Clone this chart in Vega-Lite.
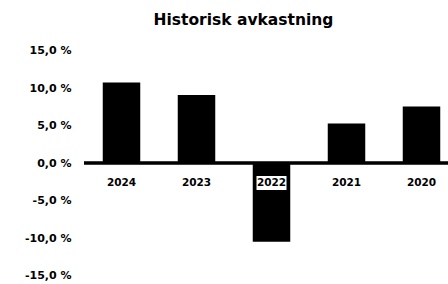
{
  "$schema": "https://vega.github.io/schema/vega-lite/v6.json",
  "width": 375,
  "height": 225,
  "autosize": {"type": "none"},
  "padding": {"left": 84, "top": 50.5, "right": 0, "bottom": 8.5},
  "background": "white",
  "title": {
    "text": "Historisk avkastning",
    "font": "DejaVu Sans",
    "fontWeight": "bold",
    "fontSize": 15.5,
    "color": "black",
    "anchor": "middle",
    "dx": -28,
    "baseline": "alphabetic",
    "offset": 4
  },
  "data": {
    "values": [
      {"year": "2024", "value": 10.73},
      {"year": "2023", "value": 9.08},
      {"year": "2022", "value": -10.5},
      {"year": "2021", "value": 5.27},
      {"year": "2020", "value": 7.55}
    ]
  },
  "encoding": {
    "x": {
      "field": "year",
      "type": "nominal",
      "sort": null,
      "axis": null,
      "scale": {"paddingInner": 0.5, "paddingOuter": 0.25}
    }
  },
  "layer": [
    {
      "mark": {"type": "bar", "color": "black"},
      "encoding": {
        "y": {
          "field": "value",
          "type": "quantitative",
          "scale": {"domain": [-15, 15], "nice": false, "zero": false},
          "axis": {
            "values": [-15, -10, -5, 0, 5, 10, 15],
            "title": null,
            "labelOverlap": false,
            "labelExpr": "replace(replace(format(datum.value, '.1f'), '.', ','), '\u2212', '-') + ' %'"
          }
        }
      }
    },
    {
      "mark": {"type": "rule", "color": "black", "strokeWidth": 2.5},
      "encoding": {
        "y": {
          "datum": 0,
          "axis": {
            "values": [-15, -10, -5, 0, 5, 10, 15],
            "title": null,
            "labelOverlap": false,
            "labelExpr": "replace(replace(format(datum.value, '.1f'), '.', ','), '\u2212', '-') + ' %'"
          }
        },
        "x": null
      }
    },
    {
      "mark": {"type": "bar", "color": "white", "width": 30},
      "encoding": {
        "y": {
          "datum": -1.73,
          "axis": {
            "values": [-15, -10, -5, 0, 5, 10, 15],
            "title": null,
            "labelOverlap": false,
            "labelExpr": "replace(replace(format(datum.value, '.1f'), '.', ','), '\u2212', '-') + ' %'"
          }
        },
        "y2": {"datum": -3.6}
      }
    },
    {
      "mark": {
        "type": "text",
        "font": "DejaVu Sans",
        "fontWeight": "bold",
        "fontSize": 10.5,
        "color": "black",
        "baseline": "middle",
        "dy": 19.5
      },
      "encoding": {
        "y": {
          "datum": 0,
          "axis": {
            "values": [-15, -10, -5, 0, 5, 10, 15],
            "title": null,
            "labelOverlap": false,
            "labelExpr": "replace(replace(format(datum.value, '.1f'), '.', ','), '\u2212', '-') + ' %'"
          }
        },
        "text": {"field": "year"}
      }
    }
  ],
  "config": {
    "view": {"stroke": null},
    "axisY": {
      "domain": false,
      "ticks": false,
      "tickSize": 0,
      "grid": false,
      "labelOverlap": false,
      "labelPadding": 13,
      "labelFont": "DejaVu Sans",
      "labelFontWeight": "bold",
      "labelFontSize": 11,
      "labelColor": "black"
    }
  }
}
